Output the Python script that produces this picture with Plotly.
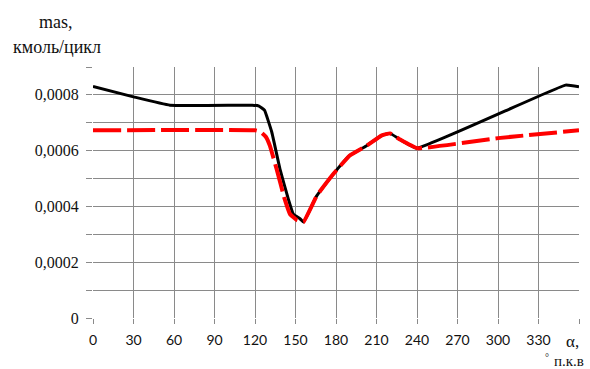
import plotly.graph_objects as go

# data
black_x = [0, 30, 57, 118, 123, 127, 132.4, 138.5, 144.7, 148.4, 153.3, 156, 165.7, 178, 190, 202.7, 214, 220, 227.4, 240, 350, 360]
black_y = [0.00083, 0.000793, 0.000763, 0.000763, 0.00076, 0.000745, 0.000667, 0.000534, 0.000426, 0.000372, 0.000356, 0.000344,
           0.000438, 0.000516, 0.000582, 0.000618, 0.000655, 0.000662, 0.00064, 0.000609, 0.000835, 0.000829]
red_x = [0, 120, 124, 128, 131, 136, 142, 146, 151, 155.8, 165.7, 178, 190, 202.7, 214, 220, 227.4, 240, 300, 360]
red_y = [0.000673, 0.000673, 0.000668, 0.00065, 0.000618, 0.000534, 0.000426, 0.000372, 0.000351, 0.000344,
         0.000438, 0.000516, 0.000582, 0.000618, 0.000655, 0.000662, 0.00064, 0.000609, 0.000645, 0.000673]

x_ticks = [0, 30, 60, 90, 120, 150, 180, 210, 240, 270, 300, 330, 360]
x_labels = ["0", "30", "60", "90", "120", "150", "180", "210", "240", "270", "300", "330", ""]
y_ticks = [0, 0.0001, 0.0002, 0.0003, 0.0004, 0.0005, 0.0006, 0.0007, 0.0008, 0.0009]
y_labels = ["0", "", "0,0002", "", "0,0004", "", "0,0006", "", "0,0008", ""]

SERIF = "Liberation Serif, Times New Roman, serif"
GRID = "#8a8a8a"

fig = go.Figure()
fig.add_trace(go.Scatter(x=black_x, y=black_y, mode="lines",
                         line=dict(color="black", width=3, shape="spline", smoothing=0.3)))
fig.add_trace(go.Scatter(x=red_x, y=red_y, mode="lines",
                         line=dict(color="#ff0000", width=4, dash="28px,6px", shape="spline", smoothing=0.3)))

fig.update_layout(
    width=590, height=369,
    margin=dict(l=93, r=11, t=67, b=51),
    paper_bgcolor="white", plot_bgcolor="white",
    showlegend=False,
    xaxis=dict(range=[0, 360], tickmode="array", tickvals=x_ticks, ticktext=x_labels,
               showgrid=True, gridcolor=GRID, gridwidth=1,
               ticks="outside", ticklen=5, tickcolor=GRID, ticklabelstandoff=4,
               showline=False, zeroline=False,
               tickfont=dict(family="Lato, Liberation Sans", size=14, color="#111")),
    yaxis=dict(range=[0, 0.0009], tickmode="array", tickvals=y_ticks, ticktext=y_labels,
               showgrid=True, gridcolor=GRID, gridwidth=1,
               ticks="outside", ticklen=6, tickcolor=GRID, ticklabelstandoff=4,
               showline=False, zeroline=False,
               tickfont=dict(family=SERIF, size=16, color="#111")),
)

# convert pixel positions to paper coords
def px(xp):
    return (xp - 93) / (579 - 93)

def py(yp):
    return (318 - yp) / (318 - 67)

def label(xp, yp, text, size):
    fig.add_annotation(x=px(xp), y=py(yp), xref="paper", yref="paper", text=text, showarrow=False,
                       xanchor="center", yanchor="middle",
                       font=dict(family=SERIF, size=size, color="#111"))

label(56, 22, "mas,", 18)
label(57, 47, "кмоль/цикл", 18)
label(572, 341, "α,", 17)
label(547, 357, "°", 10)
label(569, 361, "п.к.в", 15)

fig.write_html("out.html")
